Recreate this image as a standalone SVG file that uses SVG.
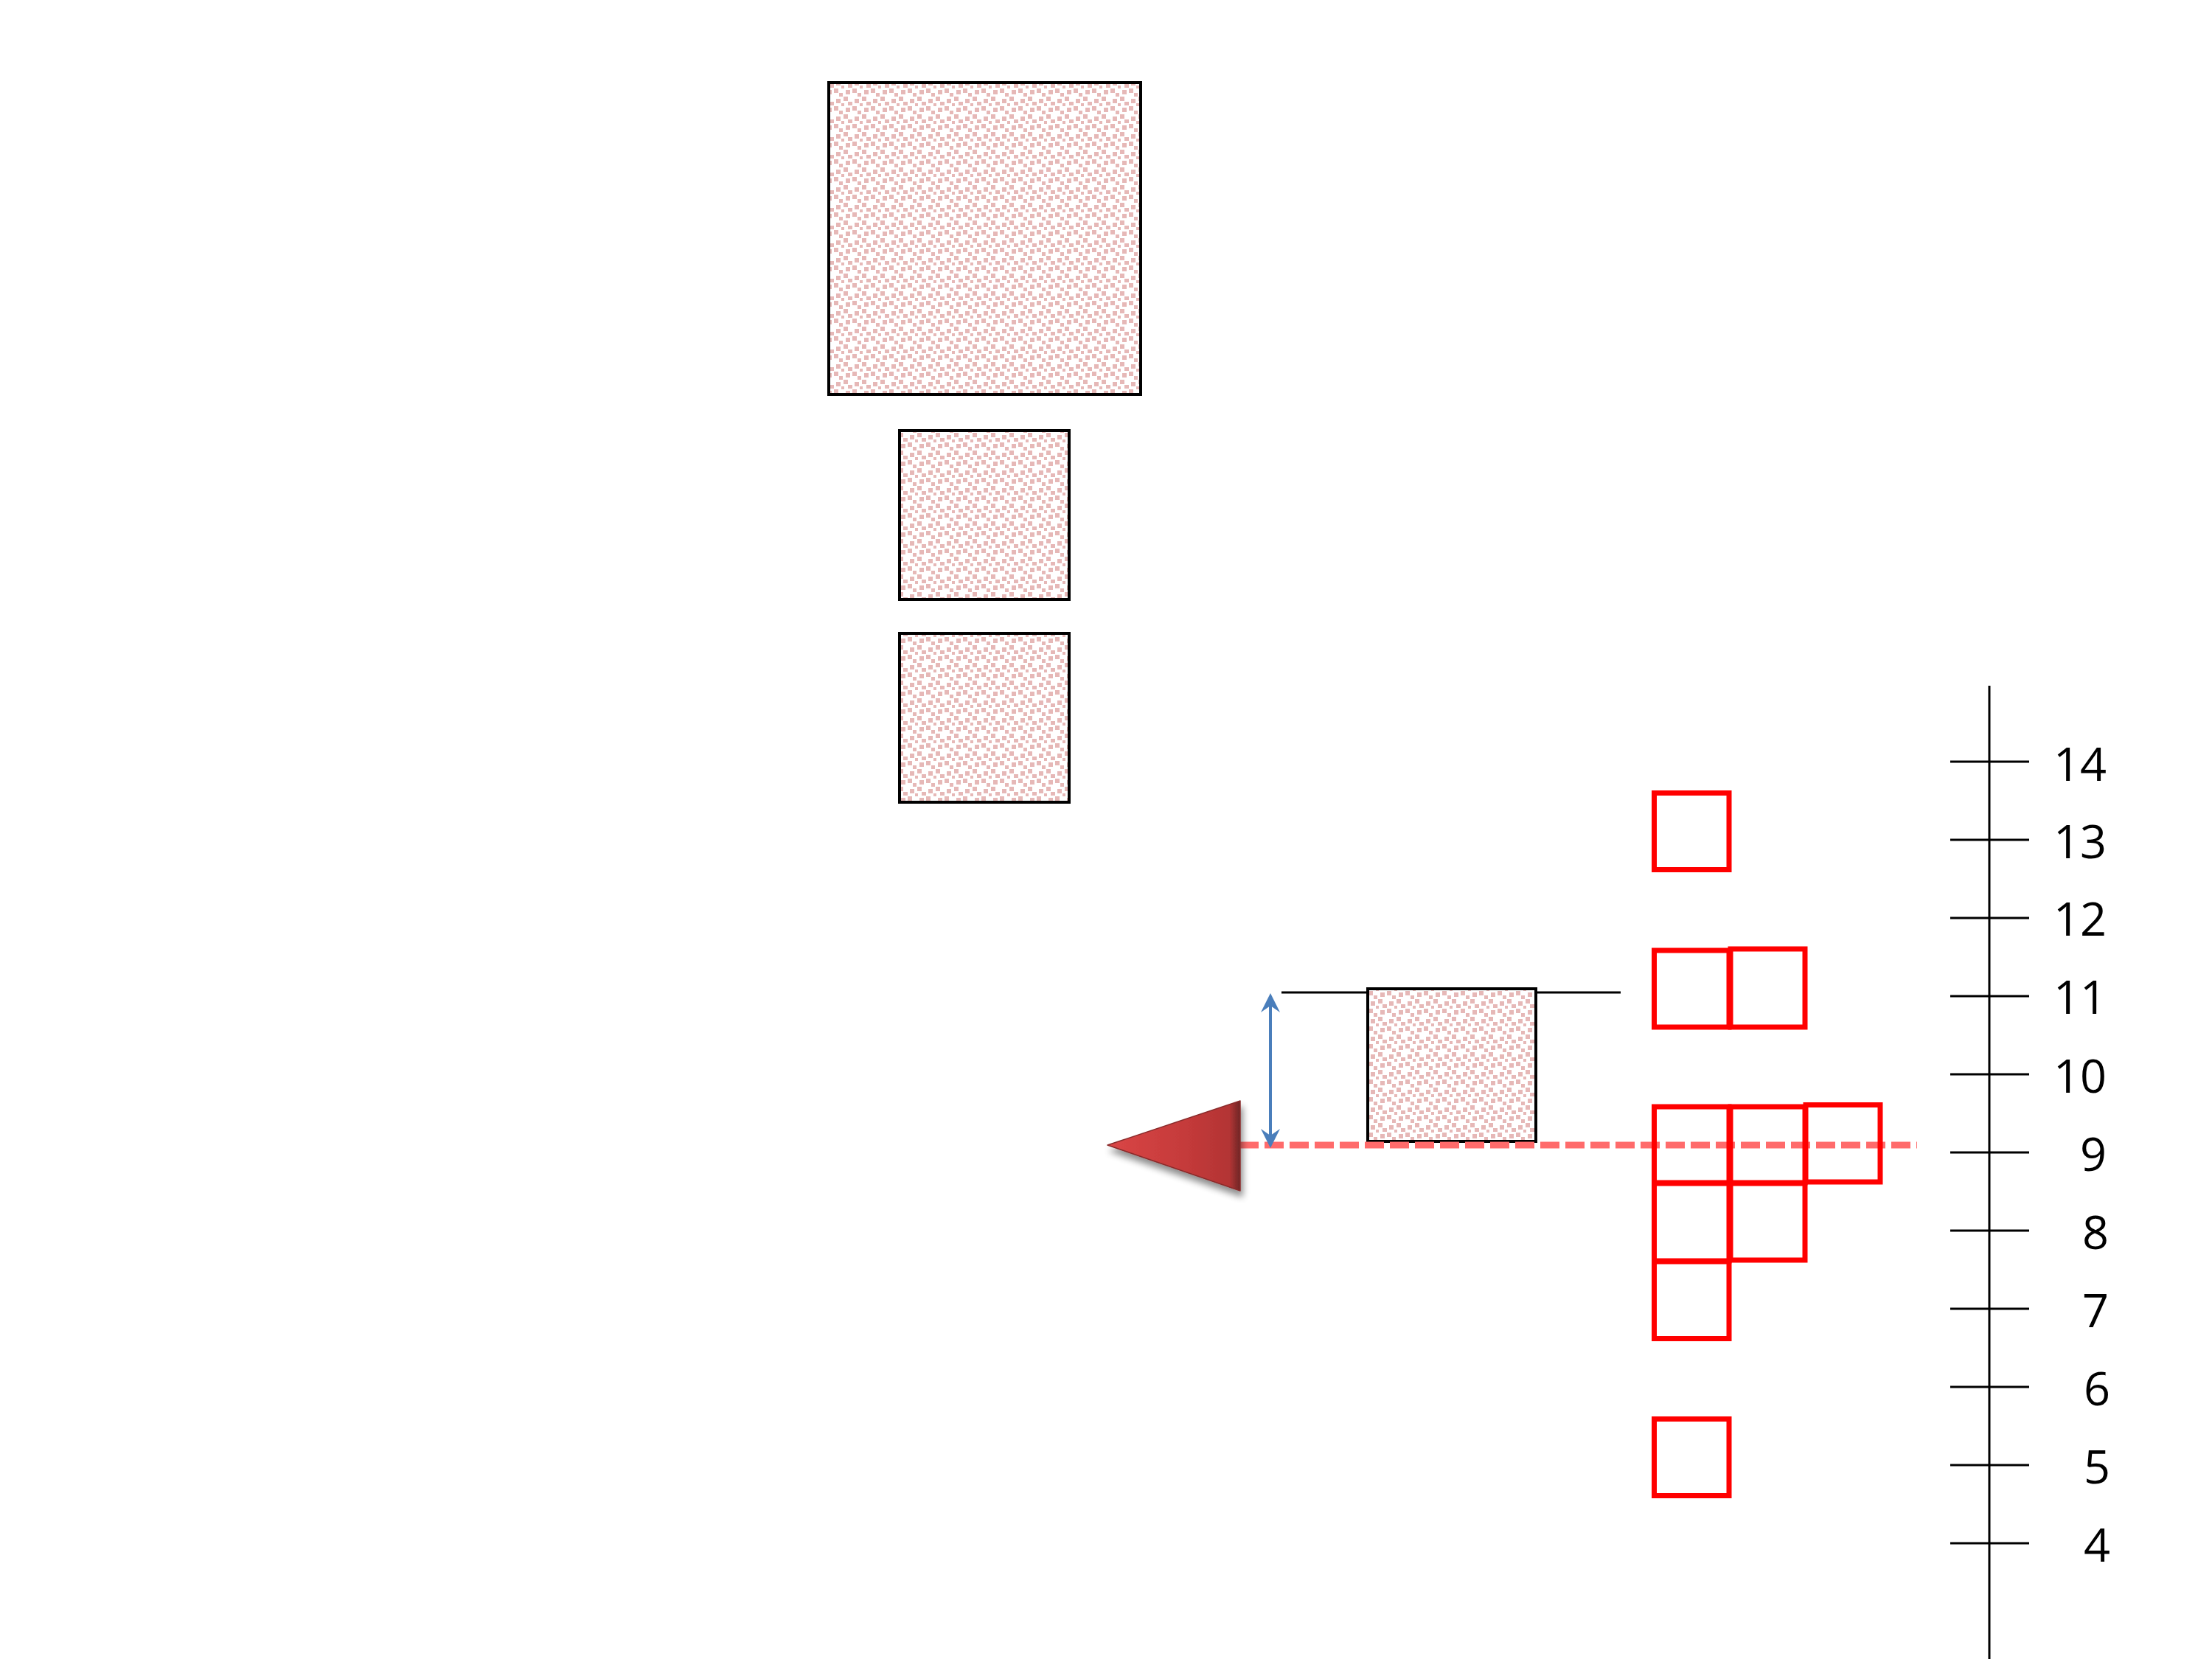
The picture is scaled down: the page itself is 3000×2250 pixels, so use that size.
<svg xmlns="http://www.w3.org/2000/svg" width="3000" height="2250" viewBox="0 0 3000 2250">
  <style>
    .hatch { fill: url(#confetti); stroke: #000000; stroke-width: 4; }
    .cell { fill: none; stroke: #FF0000; stroke-width: 7; }
    .axis { stroke: #000000; stroke-width: 3; fill: none; }
    .lbl { font-family: "Open Sans", "Liberation Sans", sans-serif; font-size: 63px; fill: #000000; text-anchor: end; }
  </style>
  <defs>
    <pattern id="confetti" patternUnits="userSpaceOnUse" x="1126" y="114" width="25" height="24">
      <rect x="0" y="0" width="25" height="24" fill="#FFFFFF"/>
      <g fill="#E6B8B7">
        <rect x="5" y="6" width="6" height="6"/>
        <rect x="21" y="8" width="6" height="6"/>
        <rect x="-4" y="8" width="6" height="6"/>
        <rect x="12" y="12" width="5" height="5"/>
        <rect x="18" y="17" width="6" height="6"/>
        <rect x="8" y="20" width="6" height="6"/>
        <rect x="8" y="-4" width="6" height="6"/>
        <rect x="24" y="0" width="6" height="5"/>
        <rect x="-1" y="0" width="6" height="5"/>
        <rect x="15" y="2" width="4" height="4"/>
      </g>
    </pattern>
    <linearGradient id="triFill" x1="0" y1="0" x2="1" y2="0">
      <stop offset="0" stop-color="#DA4646"/>
      <stop offset="0.6" stop-color="#C43A3A"/>
      <stop offset="0.92" stop-color="#B33434"/>
      <stop offset="1" stop-color="#6E2626"/>
    </linearGradient>
    <filter id="shadow" x="-20%" y="-20%" width="150%" height="160%">
      <feGaussianBlur in="SourceAlpha" stdDeviation="5"/>
      <feOffset dx="3" dy="8" result="b"/>
      <feComponentTransfer><feFuncA type="linear" slope="0.45"/></feComponentTransfer>
      <feMerge><feMergeNode/><feMergeNode in="SourceGraphic"/></feMerge>
    </filter>
    <marker id="blueHead" markerUnits="userSpaceOnUse" markerWidth="40" markerHeight="40" viewBox="-30 -20 40 40" refX="0" refY="0" orient="auto-start-reverse">
      <path d="M4,0 L-22,-13 L-13,0 L-22,13 Z" fill="#4A7EBB"/>
    </marker>
  </defs>

  <rect x="0" y="0" width="3000" height="2250" fill="#FFFFFF"/>

  <g id="level-line">
    <line x1="1738" y1="1346" x2="2198" y2="1346" stroke="#000000" stroke-width="3"/>
  </g>

  <g id="box-large"><rect class="hatch" x="1124" y="112" width="423" height="423"/></g>
  <g id="box-small-1"><rect class="hatch" x="1220" y="584" width="230" height="229"/></g>
  <g id="box-small-2"><rect class="hatch" x="1220" y="859" width="230" height="229"/></g>
  <g id="box-middle"><rect class="hatch" x="1855" y="1341" width="228" height="207"/></g>

  <g id="connectors">
    <line x1="1681" y1="1553" x2="2600" y2="1553" stroke="#FF6B6B" stroke-width="9" stroke-dasharray="26 8"/>
    <line x1="1723" y1="1351" x2="1723" y2="1553" stroke="#4A7EBB" stroke-width="4" marker-start="url(#blueHead)" marker-end="url(#blueHead)"/>
  </g>

  <g id="pointer">
    <polygon points="1502,1553 1682,1493 1682,1615" fill="url(#triFill)" stroke="#8A2C2C" stroke-width="1.5" stroke-linejoin="round" filter="url(#shadow)"/>
  </g>

  <g id="cells">
    <rect class="cell" x="2243.5" y="1075.5" width="101.5" height="104"/>
    <rect class="cell" x="2243.5" y="1289" width="101.5" height="104"/>
    <rect class="cell" x="2347" y="1287" width="101" height="106"/>
    <rect class="cell" x="2243.5" y="1501" width="101.5" height="103"/>
    <rect class="cell" x="2347" y="1501" width="101" height="103"/>
    <rect class="cell" x="2449" y="1498.5" width="101" height="104.5"/>
    <rect class="cell" x="2243.5" y="1605" width="101.5" height="105"/>
    <rect class="cell" x="2347" y="1605" width="101" height="104"/>
    <rect class="cell" x="2243.5" y="1711" width="101.5" height="104.5"/>
    <rect class="cell" x="2243.5" y="1924.5" width="101.5" height="104"/>
  </g>

  <g id="scale">
    <line class="axis" x1="2698" y1="930" x2="2698" y2="2250"/>
    <line class="axis" x1="2645" y1="1033" x2="2752" y2="1033"/>
    <line class="axis" x1="2645" y1="1139" x2="2752" y2="1139"/>
    <line class="axis" x1="2645" y1="1245" x2="2752" y2="1245"/>
    <line class="axis" x1="2645" y1="1351" x2="2752" y2="1351"/>
    <line class="axis" x1="2645" y1="1457" x2="2752" y2="1457"/>
    <line class="axis" x1="2645" y1="1563" x2="2752" y2="1563"/>
    <line class="axis" x1="2645" y1="1669" x2="2752" y2="1669"/>
    <line class="axis" x1="2645" y1="1775" x2="2752" y2="1775"/>
    <line class="axis" x1="2645" y1="1881" x2="2752" y2="1881"/>
    <line class="axis" x1="2645" y1="1987" x2="2752" y2="1987"/>
    <line class="axis" x1="2645" y1="2093" x2="2752" y2="2093"/>
    <text class="lbl" x="2857" y="1059">14</text>
    <text class="lbl" x="2857" y="1164">13</text>
    <text class="lbl" x="2857" y="1269">12</text>
    <text class="lbl" x="2857" y="1375">11</text>
    <text class="lbl" x="2857" y="1482">10</text>
    <text class="lbl" x="2857" y="1588">9</text>
    <text class="lbl" x="2860" y="1694">8</text>
    <text class="lbl" x="2860" y="1800">7</text>
    <text class="lbl" x="2862" y="1906">6</text>
    <text class="lbl" x="2862" y="2012">5</text>
    <text class="lbl" x="2862" y="2118">4</text>
  </g>
</svg>
